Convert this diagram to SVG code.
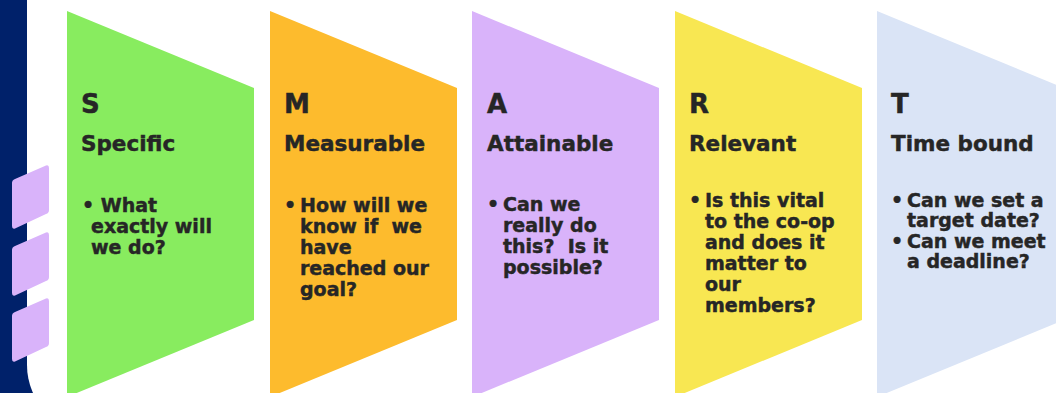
<svg xmlns="http://www.w3.org/2000/svg" width="1056" height="393" viewBox="0 0 1056 393">
  <style>
    .t { font-family: "DejaVu Sans", Verdana, sans-serif; font-weight: bold; fill: #262626; stroke: #262626; stroke-width: 0.45px; }
    .letter { font-size: 26px; }
    .title { font-size: 21.5px; }
    .body { font-size: 19px; }
  </style>
  <defs>
    <!-- chevron-style panel: slanted top and bottom edges -->
    <path id="panel" d="M0,11 L187,88 L187,320 L0,397 Z"/>
    <!-- small slanted tab with rounded corners -->
    <path id="tab" d="M3,15 L34,1.5 Q37,0.5 37,4 L37,46 Q37,49 34,50 L3,64.5 Q0,65.5 0,62 L0,19 Q0,16 3,15 Z"/>
  </defs>

  <!-- background -->
  <rect x="0" y="0" width="1056" height="393" fill="#ffffff"/>
  <rect x="0" y="0" width="80" height="393" fill="#00216A"/>
  <rect x="27" y="-120" width="1100" height="553" rx="68" ry="68" fill="#ffffff"/>

  <!-- side tabs -->
  <g id="tabs" fill="#D9B3FA">
    <use href="#tab" x="12" y="164"/>
    <use href="#tab" x="12" y="231"/>
    <use href="#tab" x="12" y="297"/>
  </g>

  <g id="node-s">
    <use href="#panel" x="67" fill="#88EC5F"/>
    <text class="t letter" x="81" y="113">S</text>
    <text class="t title" x="81" y="151">Specific</text>
    <text class="t body" x="82" y="212">• What</text>
    <text class="t body" x="91" y="233">exactly will</text>
    <text class="t body" x="91" y="254">we do?</text>
  </g>

  <g id="node-m">
    <use href="#panel" x="270" fill="#FDBB2D"/>
    <text class="t letter" x="284" y="113">M</text>
    <text class="t title" x="284" y="151">Measurable</text>
    <text class="t body" x="284" y="212">•</text>
    <text class="t body" x="300" y="212">How will we</text>
    <text class="t body" x="300" y="233" xml:space="preserve">know if  we</text>
    <text class="t body" x="300" y="254">have</text>
    <text class="t body" x="300" y="275">reached our</text>
    <text class="t body" x="300" y="296">goal?</text>
  </g>

  <g id="node-a">
    <use href="#panel" x="472" fill="#D9B3FA"/>
    <text class="t letter" x="487" y="113">A</text>
    <text class="t title" x="487" y="151">Attainable</text>
    <text class="t body" x="487" y="211">•</text>
    <text class="t body" x="503" y="211">Can we</text>
    <text class="t body" x="503" y="232">really do</text>
    <text class="t body" x="503" y="253" xml:space="preserve">this?  Is it</text>
    <text class="t body" x="503" y="274">possible?</text>
  </g>

  <g id="node-r">
    <use href="#panel" x="675" fill="#F8E752"/>
    <text class="t letter" x="689" y="113">R</text>
    <text class="t title" x="689" y="151">Relevant</text>
    <text class="t body" x="689" y="207">•</text>
    <text class="t body" x="705" y="207">Is this vital</text>
    <text class="t body" x="705" y="228">to the co-op</text>
    <text class="t body" x="705" y="249">and does it</text>
    <text class="t body" x="705" y="270">matter to</text>
    <text class="t body" x="705" y="291">our</text>
    <text class="t body" x="705" y="312">members?</text>
  </g>

  <g id="node-t">
    <use href="#panel" x="877" fill="#DAE4F6"/>
    <text class="t letter" x="891" y="113">T</text>
    <text class="t title" x="891" y="151">Time bound</text>
    <text class="t body" x="891" y="207">•</text>
    <text class="t body" x="907" y="207">Can we set a</text>
    <text class="t body" x="907" y="227">target date?</text>
    <text class="t body" x="891" y="248">•</text>
    <text class="t body" x="907" y="248">Can we meet</text>
    <text class="t body" x="907" y="268">a deadline?</text>
  </g>

  <g id="connectors"></g>
</svg>
